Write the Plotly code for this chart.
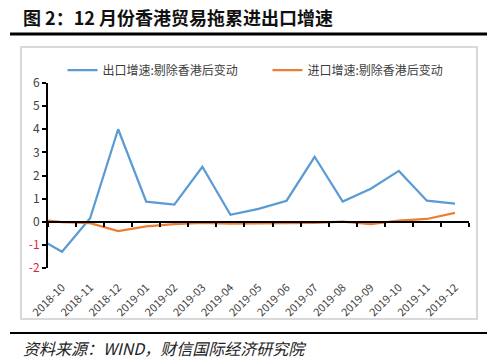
import plotly.graph_objects as go

months = ["2018-09", "2018-10", "2018-11", "2018-12", "2019-01", "2019-02", "2019-03",
          "2019-04", "2019-05", "2019-06", "2019-07", "2019-08", "2019-09", "2019-10",
          "2019-11", "2019-12"]
export_chg = [-0.6, -1.3, 0.15, 4.0, 0.87, 0.74, 2.38, 0.3, 0.56, 0.91, 2.81, 0.87, 1.43, 2.2, 0.91, 0.78]
import_chg = [0.12, -0.02, -0.06, -0.4, -0.2, -0.1, -0.05, -0.08, -0.07, -0.06, -0.05, 0.0, -0.1, 0.05, 0.12, 0.38]
ytick_vals = [-2, -1, 0, 1, 2, 3, 4, 5, 6]
ytick_text = ['<span style="color:#E0243A">-2</span>', '<span style="color:#E0243A">-1</span>',
              "0", "1", "2", "3", "4", "5", "6"]

fig = go.Figure()
fig.add_trace(go.Scatter(x=months, y=export_chg, mode="lines", name="出口增速:剔除香港后变动",
                         line=dict(color="#5B9BD5", width=2.25)))
fig.add_trace(go.Scatter(x=months, y=import_chg, mode="lines", name="进口增速:剔除香港后变动",
                         line=dict(color="#ED7D31", width=2.25)))
fig.add_trace(go.Scatter(x=months, y=[None] * len(months), xaxis="x2", yaxis="y",
                         showlegend=False, hoverinfo="skip"))

font_fam = "Noto Sans CJK SC, Noto Sans, sans-serif"
PW, PH, PL, PT = 421.0, 185.0, 48.0, 83.0


def px(x):
    return (x - PL) / PW


def py(y):
    return (PT + PH - y) / PH


fig.update_layout(
    width=500, height=363,
    margin=dict(l=48, r=31, t=83, b=95, autoexpand=False),
    paper_bgcolor="white", plot_bgcolor="rgba(0,0,0,0)",
    font=dict(family=font_fam, size=11, color="#404040"),
    showlegend=True,
    legend=dict(orientation="h", x=0.5 + 9 / PW, xanchor="center", y=py(70), yanchor="middle",
                font=dict(size=12, color="#404040"), tracegroupgap=0, itemwidth=30,
                entrywidth=160, bgcolor="rgba(0,0,0,0)"),
    xaxis=dict(type="category", range=[0.5, 15.5], showline=False, ticks="",
               showgrid=False, zeroline=False, tickangle=-45, ticklabelstandoff=10,
               tickfont=dict(size=11, color="#404040")),
    xaxis2=dict(type="category", overlaying="x", range=[0.5, 15.5], anchor="free", position=0.25,
                side="bottom", showline=True, linecolor="black", linewidth=2,
                ticks="outside", ticklen=4, tickwidth=2, tickcolor="black",
                tickson="boundaries", showticklabels=False, showgrid=False, zeroline=False),
    yaxis=dict(range=[-2, 6], tickvals=ytick_vals, ticktext=ytick_text, showline=True,
               linecolor="black", linewidth=2, ticks="outside", ticklen=4, tickwidth=2,
               tickcolor="black", showgrid=False, zeroline=False,
               tickfont=dict(size=12, color="#404040")),
    shapes=[
        dict(type="rect", xref="paper", yref="paper", x0=px(21), x1=px(477),
             y0=py(319), y1=py(47), line=dict(color="#D9D9D9", width=2), layer="below"),
        dict(type="line", xref="paper", yref="paper", x0=px(10), x1=px(487),
             y0=py(34), y1=py(34), line=dict(color="black", width=3)),
        dict(type="line", xref="paper", yref="paper", x0=px(10), x1=px(487),
             y0=py(333), y1=py(333), line=dict(color="black", width=2)),
    ],
    annotations=[
        dict(text="<b>图 2：12 月份香港贸易拖累进出口增速</b>", xref="paper", yref="paper",
             x=px(21), y=py(17), xanchor="left", yanchor="middle", showarrow=False,
             font=dict(family=font_fam, size=18, color="#111111")),
        dict(text="<i>资料来源：WIND，财信国际经济研究院</i>", xref="paper", yref="paper",
             x=px(21), y=py(348), xanchor="left", yanchor="middle", showarrow=False,
             font=dict(family=font_fam, size=16, color="#222222")),
    ],
)

fig.write_html("out.html", config={"displayModeBar": False},
               post_script="document.body.style.margin='0px';")
